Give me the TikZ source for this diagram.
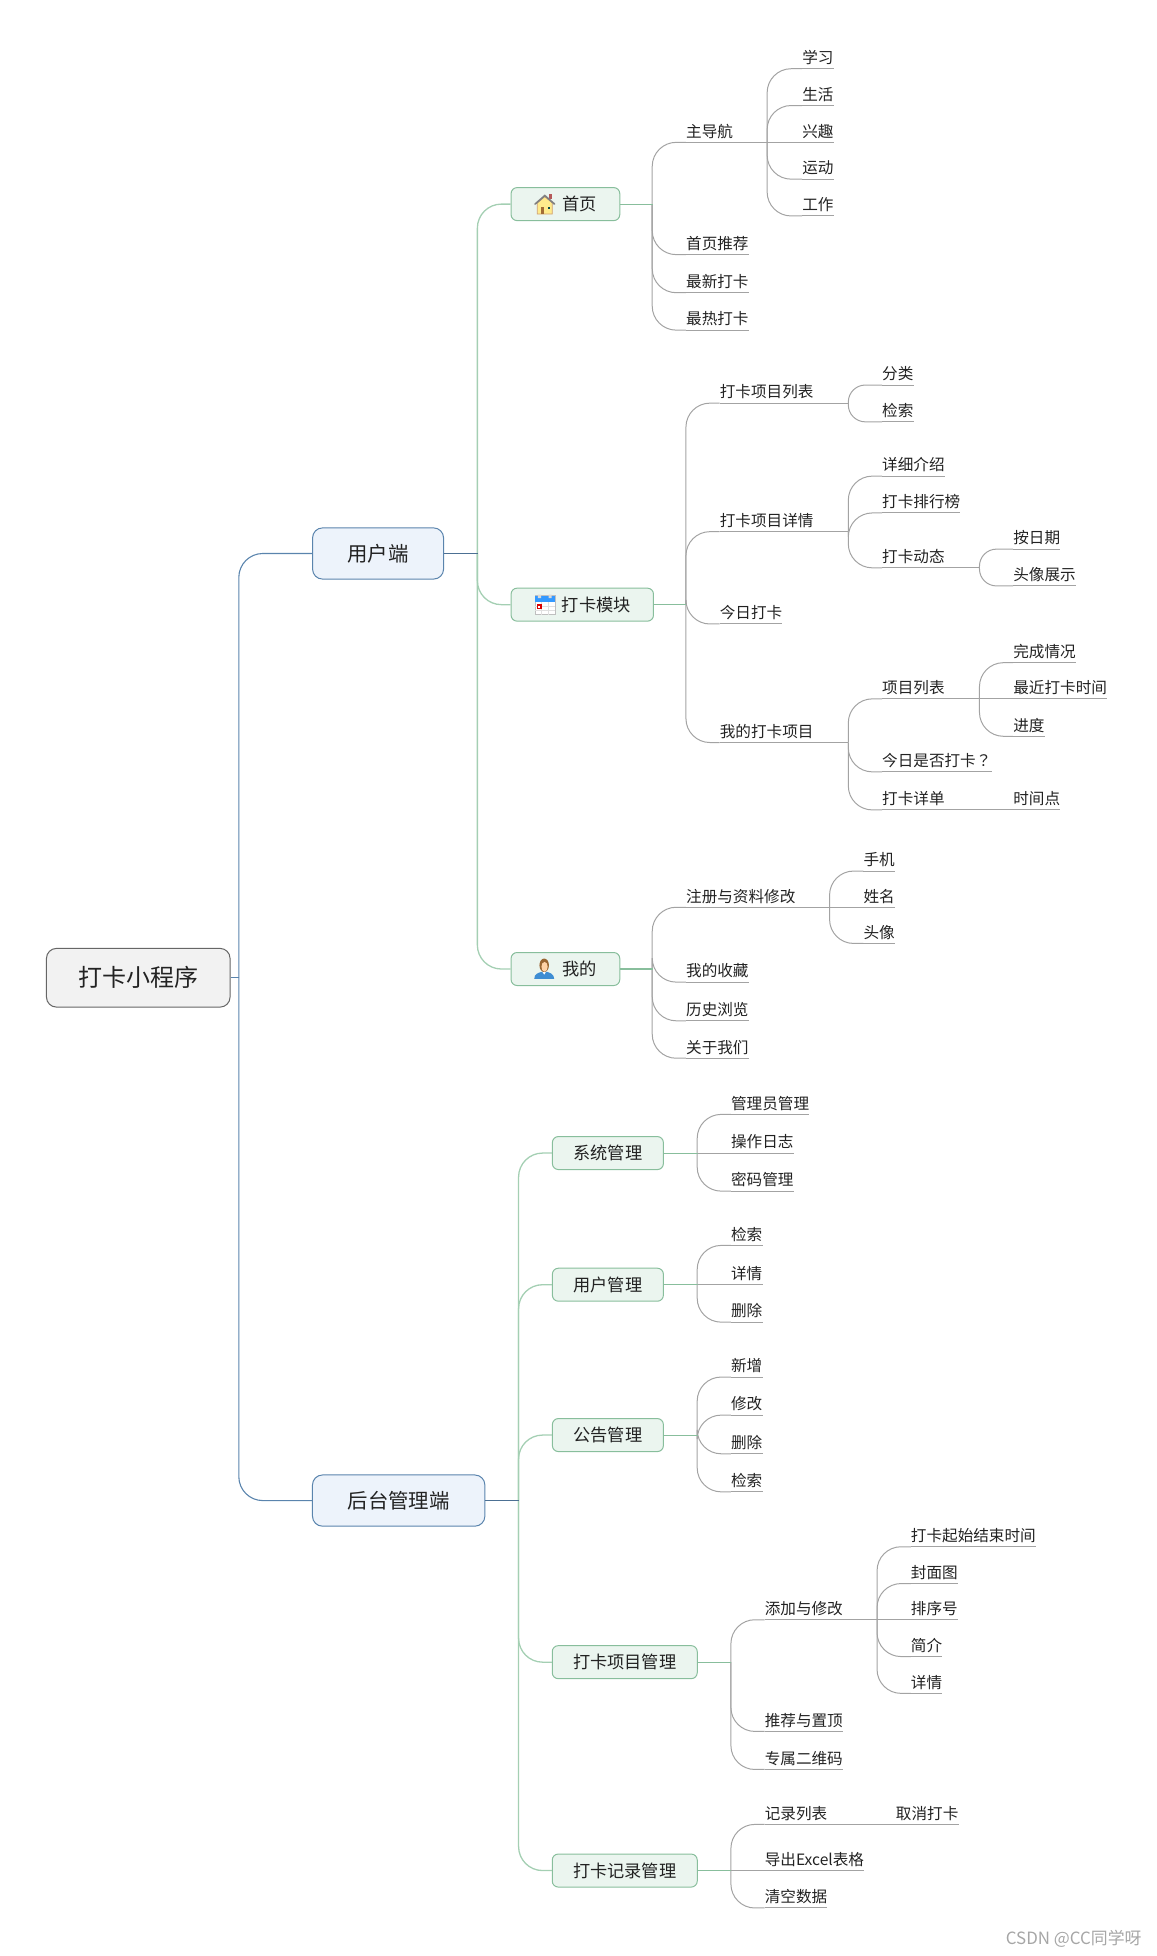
\documentclass[tikz,border=0pt]{standalone}
\usepackage{fontspec}
\setmainfont{Noto Sans CJK SC}
\newfontfamily\tcfont{Noto Sans CJK TC}
\usetikzlibrary{calc}
\definecolor{txt}{HTML}{222222}
\definecolor{leafline}{HTML}{A3A3A3}
\definecolor{blueline}{HTML}{5A84AD}
\definecolor{bluefill}{HTML}{EDF3FB}
\definecolor{greenline}{HTML}{88BE9C}
\definecolor{greenedge}{HTML}{A4CFB3}
\definecolor{greenfill}{HTML}{EBF5EF}
\tikzset{
  rootbox/.style={draw=black!60,fill=black!5,line width=1pt,rounded corners=10pt,text=txt,inner sep=0pt,
    minimum width=183.6pt,minimum height=58.7pt,font=\fontsize{24}{28}\selectfont},
  lonebox/.style={draw=blueline,fill=bluefill,line width=1pt,rounded corners=10pt,text=txt,inner sep=0pt,
    minimum height=51.2pt,font=\fontsize{20.4}{24}\selectfont},
  twobox/.style={draw=greenline,fill=greenfill,line width=1pt,rounded corners=6pt,text=txt,inner sep=0pt,
    minimum height=33pt,font=\fontsize{17.2}{20}\selectfont},
  leafnode/.style={anchor=south west,inner sep=0pt,text height=15pt,text depth=5pt,text=txt,
    font=\fontsize{15.6}{18}\selectfont},
  underl/.style={draw=leafline,line width=1pt},
  grayedge/.style={draw=leafline,line width=1pt},
  blueedge/.style={draw=blueline,line width=1.1pt},
  greenconn/.style={draw=greenedge,line width=1.3pt},
  greenstub/.style={draw=greenline,line width=1.1pt},
  bluestub/.style={draw=blueline!85!black,line width=1.1pt},
  curve/.style={rounded corners=24pt},
  tight curve/.style={rounded corners=17pt},
  mark text/.style={text=black!35,font=\fontsize{16.9}{20}\selectfont,inner sep=0pt}
}
% leaf: name, x, line y, text
\newcommand\lf[4]{\node[leafnode] (#1) at (#2,#3) {#4\hspace{3pt}};
  \draw[underl] (#1.south west) -- (#1.south east);}
% connector: style, parent anchor, bus x, child anchor
\newcommand\con[4]{\coordinate (bb) at (#3,0);
  \draw[#1] (#2) -- (#2 -| bb);
  \draw[#1,curve] (#2 -| bb) |- (#4);}
% connector between near siblings, smaller corner
\newcommand\cnn[4]{\coordinate (bb) at (#3,0);
  \draw[#1] (#2) -- (#2 -| bb);
  \draw[#1,tight curve] (#2 -| bb) |- (#4);}
% straight connector
\newcommand\str[3]{\draw[#1] (#2) -- (#3);}
\begin{document}
\begin{tikzpicture}[x=1.249pt,y=-1.2478pt]
\useasboundingbox (0.8,-0.07) rectangle (927.15,1567.49);
% boxes
\node[rootbox] (root) at (111.5,783.5) {打卡小程序};
\node[lonebox,minimum width=131pt] (user) at (303.5,443.5) {用户端};
\node[lonebox,minimum width=172.4pt] (admin) at (320,1202.5) {后台管理端};
\node[twobox,minimum width=108.7pt] (home) at (453.5,163.5) {\hspace{28pt}首页};
\node[twobox,minimum width=142.4pt] (clock) at (467,484.5) {\hspace{28pt}打卡模块};
\node[twobox,minimum width=108.7pt] (mine) at (453.5,776.5) {\hspace{28pt}我的};
\node[twobox,minimum width=111pt] (sys) at (487.5,924) {系统管理};
\node[twobox,minimum width=111pt] (umg) at (487.5,1029.5) {用户管理};
\node[twobox,minimum width=111pt] (ann) at (487.5,1150) {公告管理};
\node[twobox,minimum width=145pt] (pmg) at (501,1332) {打卡项目管理};
\node[twobox,minimum width=145pt] (rmg) at (501,1499) {打卡记录管理};
% leaves: home
\lf{nav}{550}{114}{主导航}
\lf{rec}{550}{204}{首页推荐}
\lf{new}{550}{234.5}{最新打卡}
\lf{hot}{550}{264.5}{最热打卡}
\lf{st}{643}{55}{学习}
\lf{li}{643}{84.5}{生活}
\lf{xq}{643}{114}{兴趣}
\lf{yd}{643}{143.5}{运动}
\lf{gz}{643}{173}{工作}
% leaves: clock
\lf{plist}{577}{323}{打卡项目列表}
\lf{pdet}{577}{426}{打卡项目详情}
\lf{today}{577}{500}{今日打卡}
\lf{myp}{577}{595}{我的打卡项目}
\lf{cat}{707}{308.5}{分类}
\lf{sea}{707}{338}{检索}
\lf{intro}{707}{381.5}{详细介绍}
\lf{rank}{707}{411}{打卡排行榜}
\lf{dyn}{707}{455}{打卡动态}
\lf{bydate}{812}{440}{按日期}
\lf{avat}{812}{469.5}{头像展示}
\lf{ilist}{707}{560}{项目列表}
\lf{isdone}{707}{618.5}{今日是否打卡{\tcfont ？}}
\lf{dets}{707}{649}{打卡详单}
\lf{comp}{812}{531}{完成情况}
\lf{last}{812}{560}{最近打卡时间}
\lf{prog}{812}{590}{进度}
\lf{tp}{812}{649}{时间点}
% leaves: mine
\lf{reg}{550}{727}{注册与资料修改}
\lf{fav}{550}{787}{我的收藏}
\lf{his}{550}{818}{历史浏览}
\lf{about}{550}{848}{关于我们}
\lf{phone}{692}{698}{手机}
\lf{name}{692}{727}{姓名}
\lf{head}{692}{756}{头像}
% leaves: admin
\lf{amg}{586}{893}{管理员管理}
\lf{olog}{586}{924}{操作日志}
\lf{pwd}{586}{954.5}{密码管理}
\lf{us}{586}{998}{检索}
\lf{ud}{586}{1029.5}{详情}
\lf{ur}{586}{1059.5}{删除}
\lf{aa}{586}{1103.5}{新增}
\lf{ae}{586}{1134}{修改}
\lf{ar}{586}{1165}{删除}
\lf{as}{586}{1195.5}{检索}
\lf{padd}{613}{1298}{添加与修改}
\lf{ptop}{613}{1387.5}{推荐与置顶}
\lf{pqr}{613}{1418}{专属二维码}
\lf{pt}{730}{1239.5}{打卡起始结束时间}
\lf{pc}{730}{1269}{封面图}
\lf{po}{730}{1298}{排序号}
\lf{pb}{730}{1327.5}{简介}
\lf{pd}{730}{1357}{详情}
\lf{rlist}{613}{1462}{记录列表}
\lf{rexp}{613}{1499}{导出Excel表格}
\lf{rclr}{613}{1529}{清空数据}
\lf{rcan}{718}{1462}{取消打卡}
% connectors
\con{blueedge}{root.east}{192}{user.west}
\con{blueedge}{root.east}{192}{admin.west}
\con{greenconn}{user.east}{383}{home.west}
\con{greenconn}{user.east}{383}{clock.west}
\con{greenconn}{user.east}{383}{mine.west}
\con{greenconn}{admin.east}{416}{sys.west}
\con{greenconn}{admin.east}{416}{umg.west}
\con{greenconn}{admin.east}{416}{ann.west}
\con{greenconn}{admin.east}{416}{pmg.west}
\con{greenconn}{admin.east}{416}{rmg.west}
\con{grayedge}{home.east}{523}{nav.south west}
\con{grayedge}{home.east}{523}{rec.south west}
\con{grayedge}{home.east}{523}{new.south west}
\con{grayedge}{home.east}{523}{hot.south west}
\con{grayedge}{nav.south east}{615}{st.south west}
\con{grayedge}{nav.south east}{615}{li.south west}
\str{grayedge}{nav.south east}{xq.south west}
\con{grayedge}{nav.south east}{615}{yd.south west}
\con{grayedge}{nav.south east}{615}{gz.south west}
\con{grayedge}{clock.east}{550}{plist.south west}
\con{grayedge}{clock.east}{550}{pdet.south west}
\con{grayedge}{clock.east}{550}{today.south west}
\con{grayedge}{clock.east}{550}{myp.south west}
\cnn{grayedge}{plist.south east}{680}{cat.south west}
\cnn{grayedge}{plist.south east}{680}{sea.south west}
\con{grayedge}{pdet.south east}{680}{intro.south west}
\con{grayedge}{pdet.south east}{680}{rank.south west}
\con{grayedge}{pdet.south east}{680}{dyn.south west}
\cnn{grayedge}{dyn.south east}{785}{bydate.south west}
\cnn{grayedge}{dyn.south east}{785}{avat.south west}
\con{grayedge}{myp.south east}{680}{ilist.south west}
\con{grayedge}{myp.south east}{680}{isdone.south west}
\con{grayedge}{myp.south east}{680}{dets.south west}
\con{grayedge}{ilist.south east}{785}{comp.south west}
\str{grayedge}{ilist.south east}{last.south west}
\con{grayedge}{ilist.south east}{785}{prog.south west}
\str{grayedge}{dets.south east}{tp.south west}
\con{grayedge}{mine.east}{523}{reg.south west}
\con{grayedge}{mine.east}{523}{fav.south west}
\con{grayedge}{mine.east}{523}{his.south west}
\con{grayedge}{mine.east}{523}{about.south west}
\con{grayedge}{reg.south east}{665}{phone.south west}
\str{grayedge}{reg.south east}{name.south west}
\con{grayedge}{reg.south east}{665}{head.south west}
\con{grayedge}{sys.east}{559}{amg.south west}
\str{grayedge}{sys.east}{olog.south west}
\con{grayedge}{sys.east}{559}{pwd.south west}
\con{grayedge}{umg.east}{559}{us.south west}
\str{grayedge}{umg.east}{ud.south west}
\con{grayedge}{umg.east}{559}{ur.south west}
\con{grayedge}{ann.east}{559}{aa.south west}
\con{grayedge}{ann.east}{559}{ae.south west}
\con{grayedge}{ann.east}{559}{ar.south west}
\con{grayedge}{ann.east}{559}{as.south west}
\con{grayedge}{pmg.east}{586}{padd.south west}
\con{grayedge}{pmg.east}{586}{ptop.south west}
\con{grayedge}{pmg.east}{586}{pqr.south west}
\con{grayedge}{padd.south east}{703}{pt.south west}
\con{grayedge}{padd.south east}{703}{pc.south west}
\str{grayedge}{padd.south east}{po.south west}
\con{grayedge}{padd.south east}{703}{pb.south west}
\con{grayedge}{padd.south east}{703}{pd.south west}
\con{grayedge}{rmg.east}{586}{rlist.south west}
\str{grayedge}{rmg.east}{rexp.south west}
\con{grayedge}{rmg.east}{586}{rclr.south west}
\str{grayedge}{rlist.south east}{rcan.south west}
% stubs from each box to its bus, in the box's own colour
\draw[bluestub] (user.east) -- ++(27,0);
\draw[bluestub] (admin.east) -- ++(27,0);
\draw[greenstub] (home.east) -- ++(26,0);
\draw[greenstub] (clock.east) -- ++(26,0);
\draw[greenstub] (mine.east) -- ++(26,0);
\draw[greenstub] (sys.east) -- ++(27,0);
\draw[greenstub] (umg.east) -- ++(27,0);
\draw[greenstub] (ann.east) -- ++(27,0);
\draw[greenstub] (pmg.east) -- ++(27,0);
\draw[greenstub] (rmg.east) -- ++(27,0);
% house icon
\begin{scope}[shift={(437,163.5)}]
  \fill[red!55!black!65] (3.2,-8.5) rectangle (5.4,-4);
  \filldraw[fill=orange!35!yellow!45,draw=brown!75,line width=.7pt] (-6,-1) -- (0,-6) -- (6,-1) -- (6,8) -- (-6,8) -- cycle;
  \draw[black!50,line width=1.7pt,line cap=round] (-7.8,0) -- (0,-6.8) -- (7.8,0);
  \fill[brown!85!black] (-3,2) rectangle (-0.3,8);
  \fill[teal!60!black] (2.2,2.2) rectangle (3.8,3.8);
\end{scope}
% calendar icon
\begin{scope}[shift={(437,484.5)}]
  \filldraw[fill=white,draw=black!25,line width=.5pt] (-8,-7.5) rectangle (8,8);
  \fill[blue!50!cyan!80] (-8,-7) rectangle (8,-2);
  \fill[black!15] (-5.5,-8) rectangle (-3,-5.2) (3,-8) rectangle (5.5,-5.2);
  \draw[black!12,line width=.4pt] (-8,1) -- (8,1) (-8,4.5) -- (8,4.5) (-2.7,-2) -- (-2.7,8) (2.7,-2) -- (2.7,8);
  \fill[red!85!black] (-6.5,-0.5) rectangle (-2.5,3.5);
  \fill[white] (-5.2,0.7) rectangle (-3.8,2.3);
\end{scope}
% person icon
\begin{scope}[shift={(436.5,776.5)}]
  \fill[cyan!60!blue!80] (-8,8) .. controls (-8,3.5) and (-4,3) .. (-2,2.2) -- (2,2.2) .. controls (4,3) and (8,3.5) .. (8,8) -- cycle;
  \fill[white] (-1.5,2.2) -- (0,4.5) -- (1.5,2.2) -- cycle;
  \fill[brown!80!black] (0,-3) ellipse (3.8 and 5.4);
  \fill[orange!35!white] (0.3,-1.8) ellipse (2.5 and 3.9);
\end{scope}
\node[mark text,anchor=east] (wm) at (915,1554) {CSDN @CC同学呀};
\end{tikzpicture}
\end{document}
